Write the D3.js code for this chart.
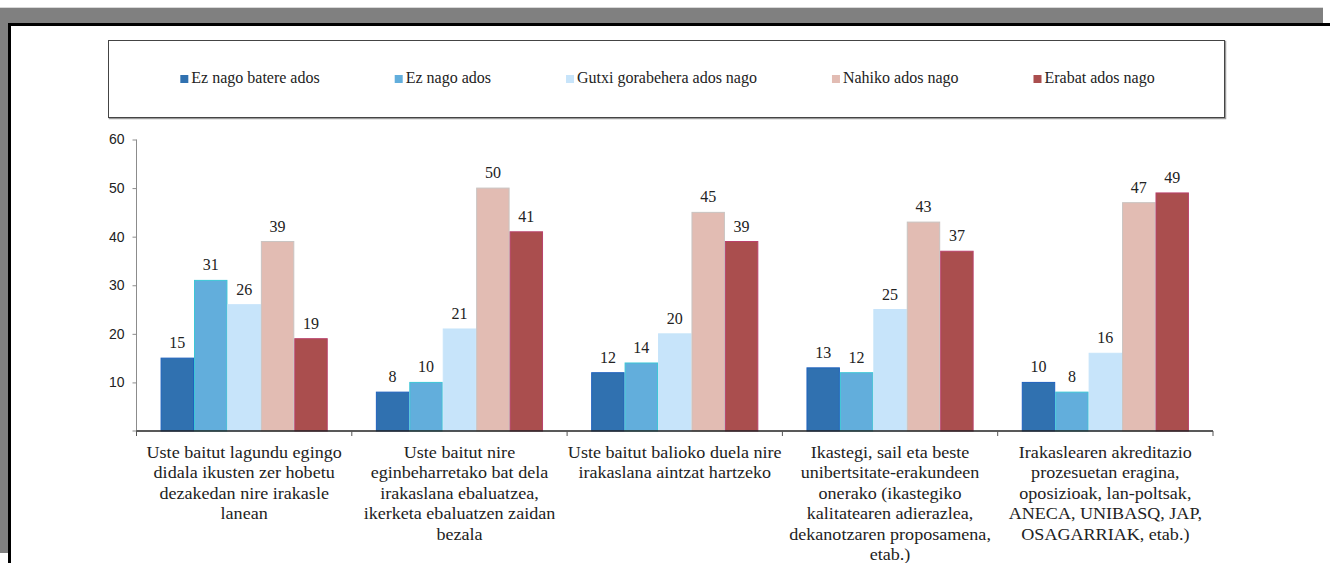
<!DOCTYPE html>
<html>
<head>
<meta charset="utf-8">
<script src="https://cdn.jsdelivr.net/npm/d3@7"></script>
<style>
  body { margin: 0; background: #fff; }
  svg { display: block; }
</style>
</head>
<body>
<div id="area_1"></div>
<script>
// data
var series = ["Ez nago batere ados", "Ez nago ados", "Gutxi gorabehera ados nago", "Nahiko ados nago", "Erabat ados nago"]
var categories = [
  ["Uste baitut lagundu egingo", "didala ikusten zer hobetu", "dezakedan nire irakasle", "lanean"],
  ["Uste baitut nire", "eginbeharretako bat dela", "irakaslana ebaluatzea,", "ikerketa ebaluatzen zaidan", "bezala"],
  ["Uste baitut balioko duela nire", "irakaslana aintzat hartzeko"],
  ["Ikastegi, sail eta beste", "unibertsitate-erakundeen", "onerako (ikastegiko", "kalitatearen adierazlea,", "dekanotzaren proposamena,", "etab.)"],
  ["Irakaslearen akreditazio", "prozesuetan eragina,", "oposizioak, lan-poltsak,", "ANECA, UNIBASQ, JAP,", "OSAGARRIAK, etab.)"]
]
var ezBatere = [15, 8, 12, 13, 10]
var ezAdos   = [31, 10, 14, 12, 8]
var gutxi    = [26, 21, 20, 25, 16]
var nahiko   = [39, 50, 45, 43, 47]
var erabat   = [19, 41, 39, 37, 49]
var yTicks = [10, 20, 30, 40, 50, 60]

var colors = ["#3071b0", "#62aedc", "#c7e4fa", "#e2bcb3", "#aa4e4e"]
var strokes = ["#1f62bd", "#3cc6d6", "#c7e4fa", "#c9c3c1", "#b9416a"]

var values = [ezBatere, ezAdos, gutxi, nahiko, erabat]
var data = categories.map(function(c, i) {
  return { lines: c, vals: values.map(function(v) { return v[i] }) }
})

var W = 1330, H = 563
var svg = d3.select("#area_1").append("svg").attr("width", W).attr("height", H)

// page frame (grey margin + black border)
svg.append("rect").attr("x", 0).attr("y", 8).attr("width", 1323).attr("height", 15).style("fill", "#808080")
svg.append("rect").attr("x", 0).attr("y", 8).attr("width", 8).attr("height", 545).style("fill", "#808080")
svg.append("line").attr("x1", 0).attr("x2", 1323).attr("y1", 7.5).attr("y2", 7.5).style("stroke", "#d8d8d8")
svg.append("rect").attr("x", 8).attr("y", 23).attr("width", W - 8).attr("height", 3).style("fill", "#000")
svg.append("rect").attr("x", 8).attr("y", 23).attr("width", 3).attr("height", H - 23).style("fill", "#000")

var x0 = d3.scaleBand().domain(d3.range(categories.length)).range([136.5, 1213]).padding(0)
var x1 = d3.scaleBand().domain(d3.range(series.length)).range([0, x0.bandwidth()]).paddingOuter(0.72)
var y = d3.scaleLinear().domain([0, 60]).range([431, 139.5])

// legend
var legend = svg.append("g")
legend.append("rect")
  .attr("x", 109.5).attr("y", 41.5).attr("width", 1116).attr("height", 77)
  .style("fill", "none").style("stroke", "#9a9a9a").style("stroke-width", 1.5)
legend.append("rect")
  .attr("x", 108.5).attr("y", 40.5).attr("width", 1116).attr("height", 77)
  .style("fill", "#fff").style("stroke", "#444").style("stroke-width", 1)

var items = legend.selectAll("g.item").data(series).enter().append("g").attr("class", "item")
items.append("rect").attr("width", 8).attr("height", 8).attr("y", 75)
  .style("fill", function(d, i) { return colors[i] })
items.append("text").attr("y", 83)
  .attr("font-family", "Liberation Serif").attr("font-size", "16px").style("fill", "#222")
  .text(function(d) { return d })
var gap = 75, total = 0, widths = []
items.selectAll("text").each(function() { widths.push(this.getComputedTextLength()) })
widths.forEach(function(w, i) { total += 11 + w + (i < widths.length - 1 ? gap : 0) })
var cx = 108.5 + 1116 / 2 + 1, pos = cx - total / 2
items.each(function(d, i) {
  d3.select(this).select("rect").attr("x", pos)
  d3.select(this).select("text").attr("x", pos + 11)
  pos += 11 + widths[i] + gap
})

// y axis
var yAxis = svg.append("g")
  .attr("transform", "translate(136.5,0)")
  .call(d3.axisLeft(y).tickValues(yTicks).tickSize(4).tickPadding(8))
yAxis.select(".domain").attr("d", "M0," + y(60) + "V" + y(0)).style("stroke", "#8c8c8c")
yAxis.selectAll(".tick line").style("stroke", "#8c8c8c")
yAxis.selectAll(".tick text").attr("font-family", "Liberation Sans").attr("font-size", "14px").style("fill", "#222")
yAxis.append("line").attr("x1", -4).attr("x2", 0).attr("y1", y(0)).attr("y2", y(0)).style("stroke", "#8c8c8c")

// bars
var groups = svg.selectAll("g.cat").data(data).enter().append("g").attr("class", "cat")
  .attr("transform", function(d, i) { return "translate(" + x0(i) + ",0)" })

groups.selectAll("rect").data(function(d) { return d.vals }).enter().append("rect")
  .attr("x", function(d, i) { return x1(i) + 0.5 })
  .attr("y", function(d) { return y(d) })
  .attr("width", x1.bandwidth() - 1)
  .attr("height", function(d) { return y(0) - y(d) })
  .style("fill", function(d, i) { return colors[i] })
  .style("stroke", function(d, i) { return strokes[i] })
  .style("stroke-width", 1)

groups.selectAll("text.val").data(function(d) { return d.vals }).enter().append("text")
  .attr("class", "val")
  .attr("x", function(d, i) { return x1(i) + x1.bandwidth() / 2 })
  .attr("y", function(d) { return y(d) - 10 })
  .attr("text-anchor", "middle")
  .attr("font-family", "Liberation Serif").attr("font-size", "16px").style("fill", "#222")
  .text(function(d) { return d })

// x axis
var xAxis = svg.append("g").attr("transform", "translate(0,431)")
xAxis.append("line").attr("x1", 136.5).attr("x2", 1213).style("stroke", "#222").style("stroke-width", 1.3)
var bounds = d3.range(categories.length + 1).map(function(i) { return i < categories.length ? x0(i) : x0(i - 1) + x0.bandwidth() })
xAxis.selectAll("line.t").data(bounds).enter().append("line").attr("class", "t")
  .attr("x1", function(d) { return d }).attr("x2", function(d) { return d })
  .attr("y1", 0).attr("y2", 5).style("stroke", "#555")

// category labels (Cambria-like width: stretch the serif a bit)
var labels = svg.selectAll("text.cat").data(data).enter().append("text").attr("class", "cat")
  .attr("text-anchor", "middle")
  .attr("font-family", "Liberation Serif").attr("font-size", "16px").style("fill", "#222")
  .attr("transform", function(d, i) { return "translate(" + (x0(i) + x0.bandwidth() / 2) + ",458) scale(1.13,1)" })
labels.selectAll("tspan").data(function(d) { return d.lines }).enter().append("tspan")
  .attr("x", 0).attr("dy", function(d, i) { return i ? 20.5 : 0 })
  .text(function(d) { return d })
</script>
</body>
</html>
